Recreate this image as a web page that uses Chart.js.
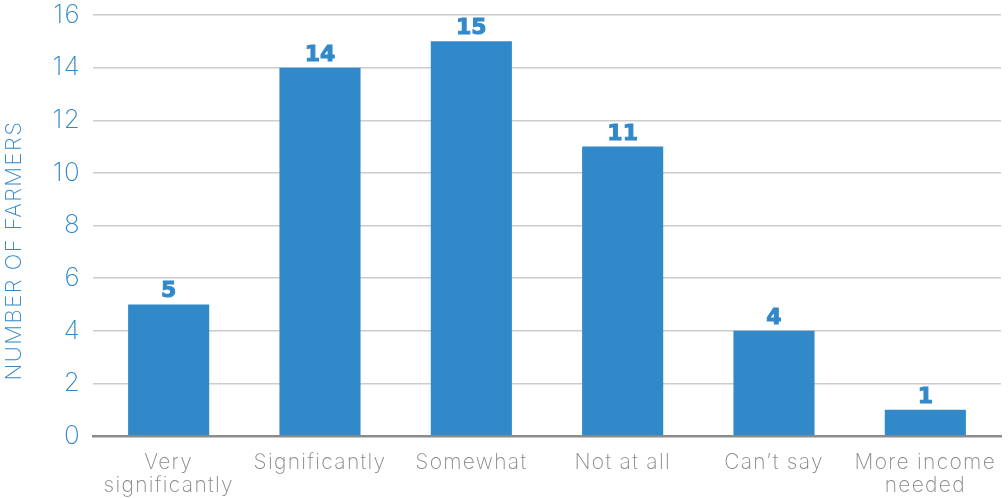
<!DOCTYPE html>
<html>
<head>
<meta charset="utf-8">
<script src="https://cdn.jsdelivr.net/npm/chart.js@4"></script>
<style>
  html, body { margin: 0; padding: 0; background: #fff; }
  #wrap { width: 1008px; height: 498px; }
</style>
</head>
<body>
<div id="wrap"><canvas id="myChart"></canvas></div>
<script>
const categories = [['Very', 'significantly'], 'Significantly', 'Somewhat', 'Not at all', 'Can\u2019t say', ['More income', 'needed']];
const farmers = [5, 14, 15, 11, 4, 1];
const yTicks = [0, 2, 4, 6, 8, 10, 12, 14, 16];
const yTitle = 'NUMBER OF FARMERS';

const blue = '#3289ca';
const thin = 'Inter, sans-serif';

// wider tracking for the light axis text
const tracking = {
  id: 'tracking',
  beforeDraw(chart) {
    chart.ctx.letterSpacing = '1.3px';
  }
};

// y axis title, sitting a little below the middle of the plot
const sideTitle = {
  id: 'sideTitle',
  afterDraw(chart) {
    const ctx = chart.ctx;
    const area = chart.chartArea;
    ctx.save();
    ctx.letterSpacing = '1.5px';
    ctx.translate(14, (area.top + area.bottom) / 2 + 25);
    ctx.rotate(-Math.PI / 2);
    ctx.fillStyle = blue;
    ctx.font = '200 22px Inter';
    ctx.textAlign = 'center';
    ctx.textBaseline = 'middle';
    ctx.fillText(yTitle, 0, 0);
    ctx.restore();
  }
};

// value labels above each bar
const barValues = {
  id: 'barValues',
  afterDatasetsDraw(chart) {
    const ctx = chart.ctx;
    const meta = chart.getDatasetMeta(0);
    ctx.save();
    ctx.letterSpacing = '0px';
    ctx.fillStyle = blue;
    ctx.strokeStyle = blue;
    ctx.lineWidth = 1;
    ctx.font = 'bold 22px "DejaVu Sans"';
    ctx.textAlign = 'center';
    ctx.textBaseline = 'alphabetic';
    meta.data.forEach((bar, i) => {
      ctx.fillText(String(farmers[i]), bar.x, bar.y - 7);
      ctx.strokeText(String(farmers[i]), bar.x, bar.y - 7);
    });
    ctx.restore();
  }
};

const ctx = document.getElementById('myChart');

new Chart(ctx, {
  type: 'bar',
  data: {
    labels: categories,
    datasets: [{
      data: farmers,
      backgroundColor: blue,
      categoryPercentage: 0.536,
      barPercentage: 1.0,
    }]
  },
  options: {
    responsive: true,
    maintainAspectRatio: false,
    animation: false,
    layout: { padding: { top: 15, right: 7, left: 0, bottom: 0 } },
    plugins: {
      legend: { display: false },
      tooltip: { enabled: false },
    },
    scales: {
      x: {
        afterFit: (s) => { s.height = 62; s.paddingLeft = 0; s.paddingRight = 0; },
        grid: { display: false, drawTicks: false },
        border: { color: '#8c8c8c', width: 2.5 },
        ticks: {
          color: '#8a8a8a',
          font: { family: thin, size: 21, weight: 200, lineHeight: 1.1 },
          padding: 15,
          maxRotation: 0,
          autoSkip: false,
        },
      },
      y: {
        min: 0,
        max: 16,
        afterFit: (s) => { s.width = 93; s.paddingTop = 0; s.paddingBottom = 0; },
        afterBuildTicks: (axis) => { axis.ticks = yTicks.map(v => ({ value: v })); },
        grid: { color: '#cccccc', lineWidth: 1.5, drawTicks: false },
        border: { display: false },
        ticks: {
          color: blue,
          font: { family: thin, size: 26, weight: 200 },
          padding: 12,
        },
      }
    }
  },
  plugins: [tracking, barValues, sideTitle],
});
</script>
</body>
</html>
